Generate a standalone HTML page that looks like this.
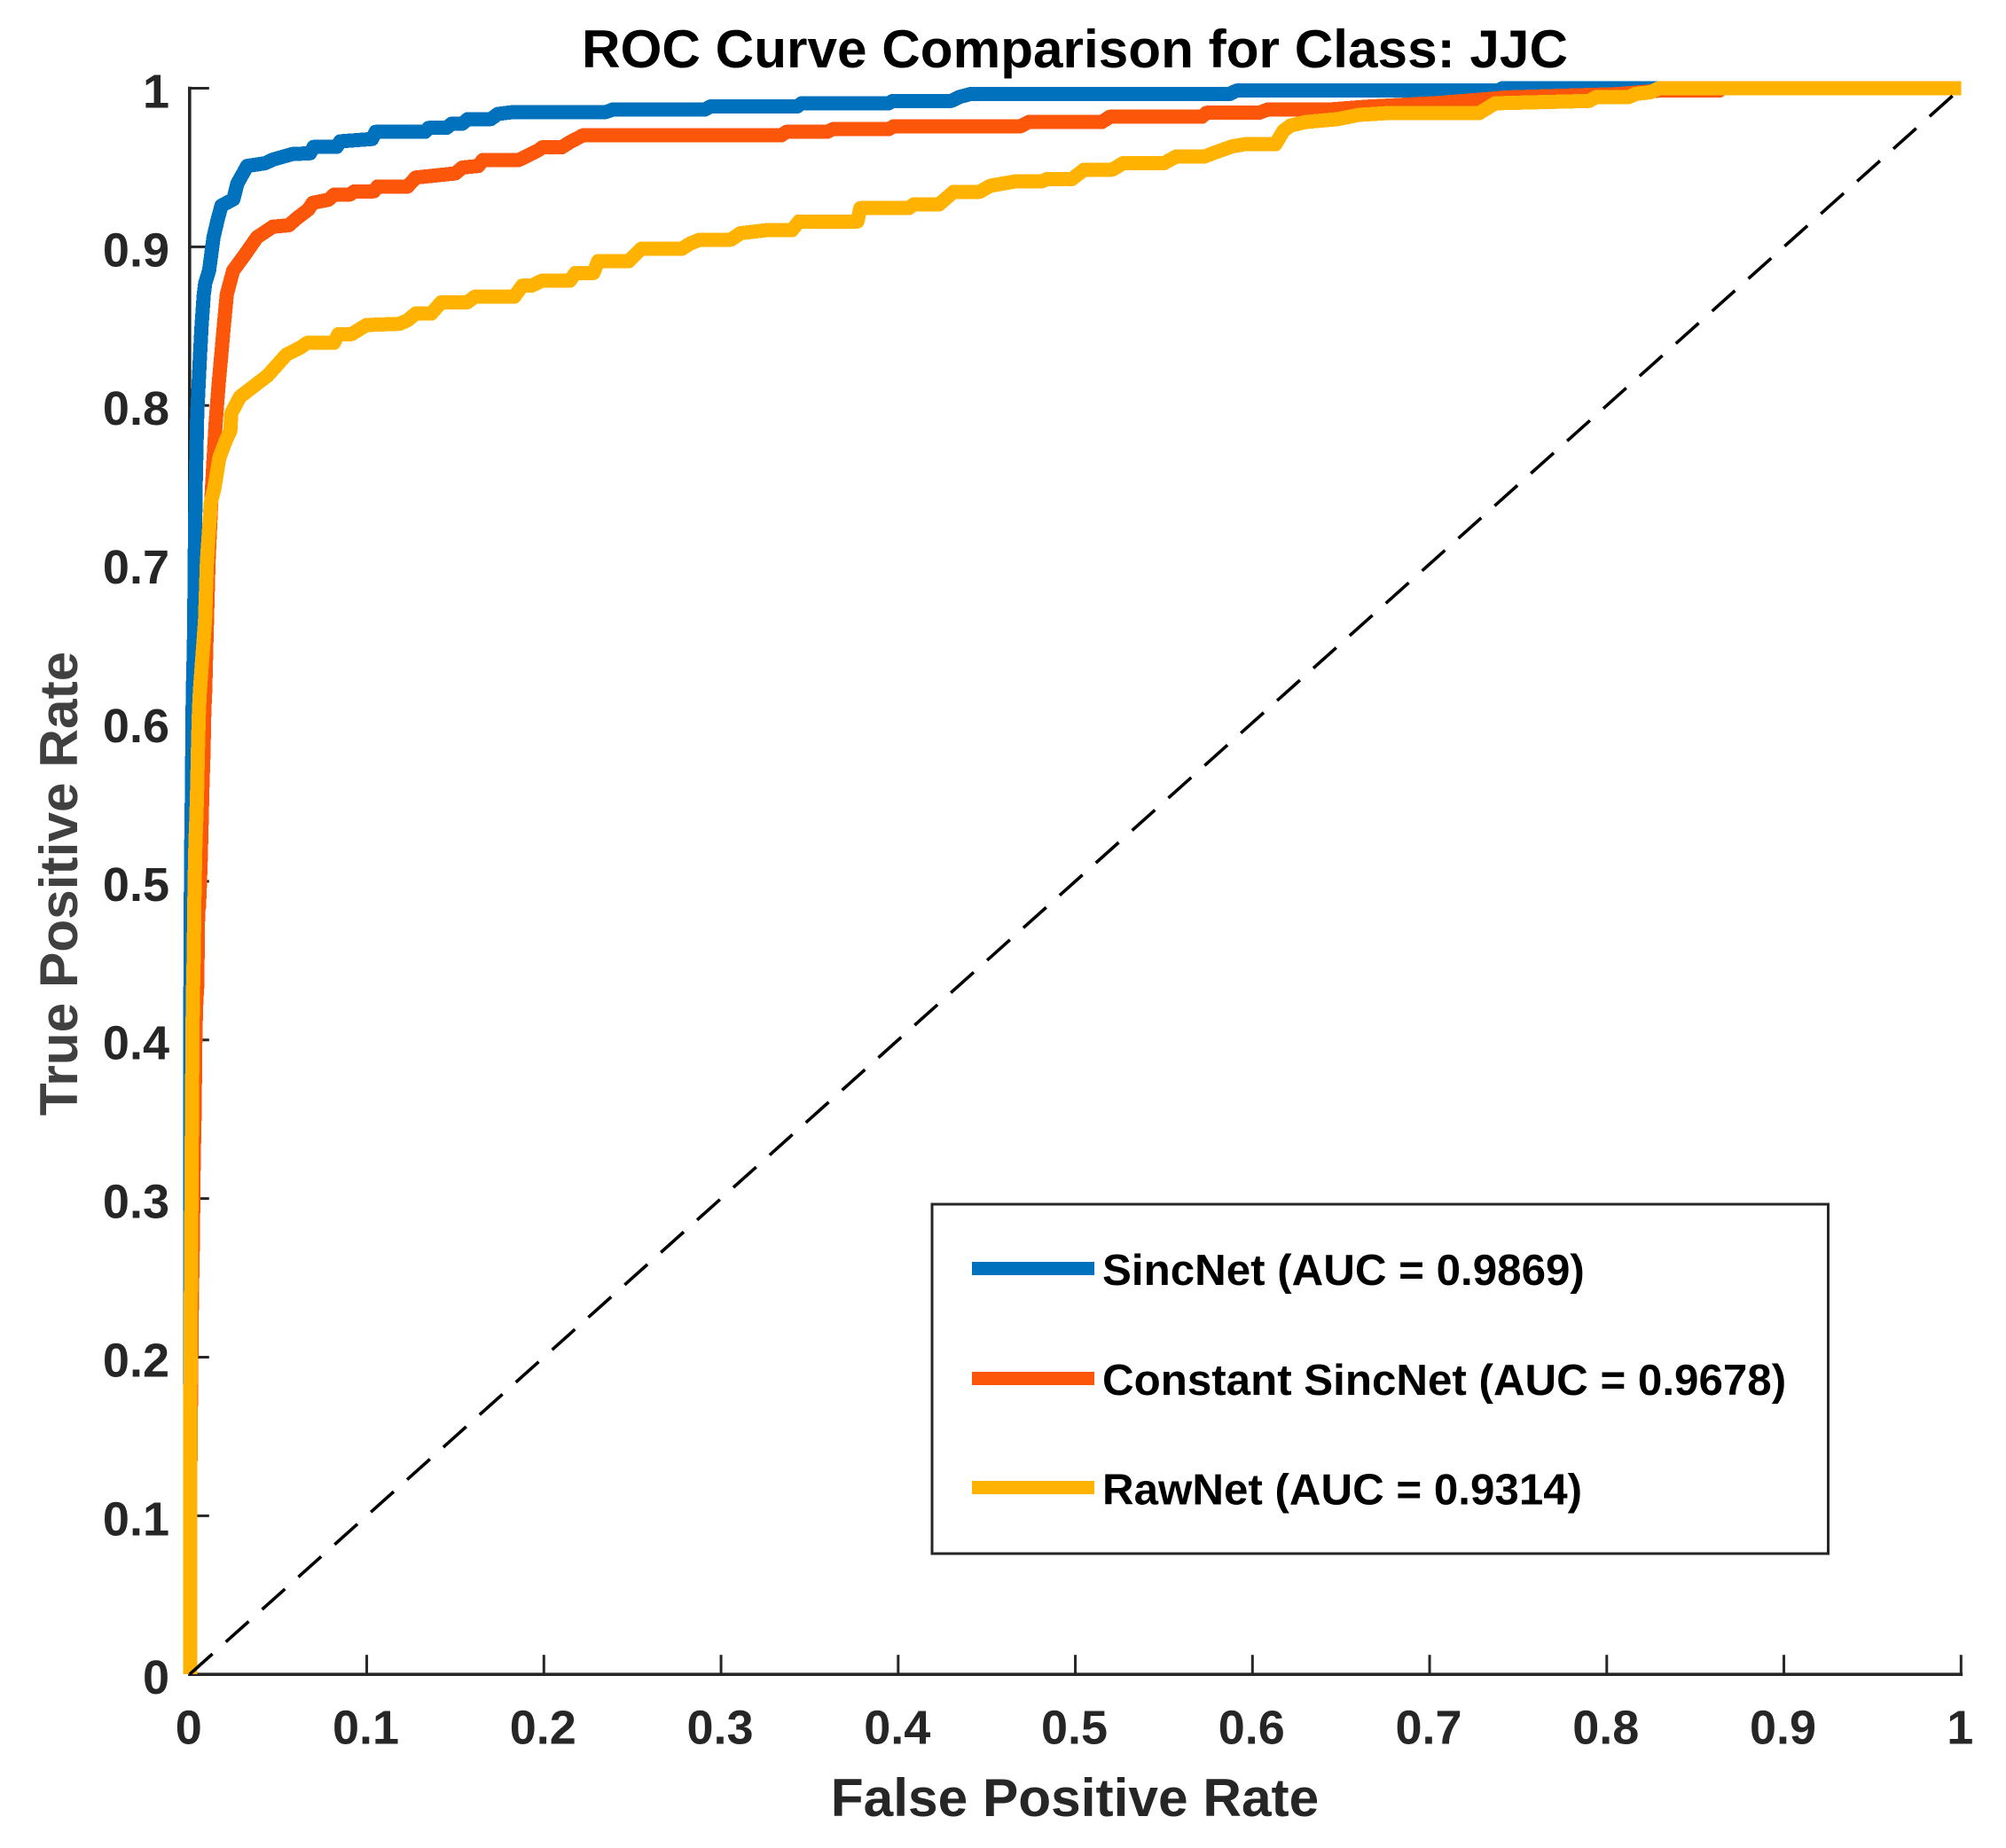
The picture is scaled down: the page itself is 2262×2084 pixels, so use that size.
<!DOCTYPE html>
<html>
<head>
<meta charset="utf-8">
<title>ROC Curve Comparison for Class: JJC</title>
<style>
html,body{margin:0;padding:0;background:#fff;}
svg{display:block;}
text{font-family:"Liberation Sans",Arial,sans-serif;font-weight:bold;}
</style>
</head>
<body>
<svg id="chart" xmlns="http://www.w3.org/2000/svg" width="2262" height="2084" viewBox="0 0 2262 2084">
<rect x="0" y="0" width="2262" height="2084" fill="#ffffff"/>
<g id="axes"></g>
<g id="series"></g>
<text x="656" y="76" font-size="60" fill="#000000" textLength="1112" lengthAdjust="spacingAndGlyphs">ROC Curve Comparison for Class: JJC</text>
<text x="1212" y="2048" font-size="60.4" fill="#262626" text-anchor="middle">False Positive Rate</text>
<text transform="translate(87 996.5) rotate(-90)" x="0" y="0" font-size="60.4" fill="#404040" text-anchor="middle">True Positive Rate</text>
<g>
<rect x="1051" y="1358" width="1010.5" height="394" fill="#ffffff" stroke="#262626" stroke-width="3"/>
<line x1="1096" y1="1430.5" x2="1234" y2="1430.5" stroke="#0072BD" stroke-width="15"/>
<text x="1243" y="1449" font-size="49.3" fill="#000000">SincNet (AUC = 0.9869)</text>
<line x1="1096" y1="1554.5" x2="1234" y2="1554.5" stroke="#FB560A" stroke-width="15"/>
<text x="1243" y="1573" font-size="49.3" fill="#000000">Constant SincNet (AUC = 0.9678)</text>
<line x1="1096" y1="1677.5" x2="1234" y2="1677.5" stroke="#FFB300" stroke-width="15"/>
<text x="1243" y="1696.5" font-size="49.3" fill="#000000">RawNet (AUC = 0.9314)</text>
</g>
</svg>
<script>
const xTicks = [0, 0.1, 0.2, 0.3, 0.4, 0.5, 0.6, 0.7, 0.8, 0.9, 1];
const yTicks = [0, 0.1, 0.2, 0.3, 0.4, 0.5, 0.6, 0.7, 0.8, 0.9, 1];
const xTickLabels = ["0", "0.1", "0.2", "0.3", "0.4", "0.5", "0.6", "0.7", "0.8", "0.9", "1"];
const yTickLabels = ["0", "0.1", "0.2", "0.3", "0.4", "0.5", "0.6", "0.7", "0.8", "0.9", "1"];

const sincnetFpr = [0.0003,0.0003,0.0008,0.0013,0.0018,0.0021,0.0026,0.0029,0.0034,0.0043,0.0059,0.0068,0.008,0.0088,0.011,0.0135,0.0158,0.018,0.0247,0.027,0.0325,0.0426,0.047,0.058,0.068,0.07,0.083,0.085,0.103,0.105,0.133,0.135,0.145,0.148,0.154,0.157,0.17,0.174,0.183,0.235,0.239,0.291,0.294,0.343,0.3455,0.3946,0.397,0.43,0.4346,0.4407,0.587,0.591,0.739,0.741,1];
const sincnetTpr = [0,0.39,0.51,0.556,0.62,0.631,0.659,0.702,0.748,0.795,0.832,0.851,0.87,0.877,0.885,0.906,0.917,0.926,0.93,0.94,0.951,0.9527,0.955,0.9585,0.959,0.963,0.963,0.9665,0.968,0.9725,0.9725,0.975,0.975,0.9777,0.9777,0.9805,0.9805,0.9838,0.985,0.985,0.9866,0.9866,0.9885,0.9885,0.9905,0.9905,0.992,0.992,0.9945,0.9963,0.9963,0.9985,0.9985,1,1];

const constantFpr = [0.0003,0.0003,0.0008,0.0013,0.0018,0.0023,0.0028,0.0033,0.0038,0.0043,0.0048,0.0053,0.0058,0.0063,0.0068,0.0073,0.0078,0.0083,0.0088,0.0097,0.0107,0.0122,0.0147,0.0164,0.0194,0.021,0.024,0.0246,0.0315,0.038,0.047,0.056,0.0605,0.067,0.0695,0.0784,0.0817,0.0906,0.093,0.104,0.106,0.123,0.1277,0.15,0.154,0.163,0.1655,0.1857,0.19,0.197,0.199,0.21,0.2147,0.222,0.334,0.337,0.36,0.363,0.3946,0.3974,0.469,0.4737,0.515,0.5195,0.5715,0.574,0.6037,0.6087,0.644,0.6637,0.705,0.731,0.7437,0.8065,0.8295,0.8635,0.865,1];
const constantTpr = [0,0.11,0.179,0.238,0.272,0.324,0.353,0.405,0.425,0.4334,0.481,0.484,0.498,0.5145,0.5386,0.562,0.579,0.607,0.62,0.66,0.702,0.739,0.789,0.8135,0.851,0.87,0.8826,0.885,0.8955,0.906,0.9127,0.9136,0.918,0.9235,0.9277,0.9297,0.933,0.933,0.935,0.935,0.938,0.938,0.9437,0.9463,0.95,0.951,0.9547,0.9547,0.957,0.961,0.9627,0.9627,0.966,0.9703,0.9703,0.9725,0.9725,0.9742,0.9742,0.976,0.976,0.9787,0.9787,0.982,0.982,0.9845,0.9845,0.9866,0.9866,0.9883,0.9907,0.993,0.9942,0.9963,0.9985,0.9985,1,1];

const rawnetFpr = [0.0003,0.0003,0.0008,0.0013,0.0018,0.0023,0.0028,0.0033,0.0038,0.0043,0.0048,0.0053,0.0058,0.0087,0.0098,0.012,0.014,0.0168,0.0205,0.023,0.0235,0.0284,0.0384,0.0439,0.049,0.0546,0.063,0.0664,0.0815,0.084,0.0915,0.0998,0.1187,0.123,0.1277,0.1365,0.142,0.1567,0.161,0.1833,0.1878,0.193,0.199,0.2147,0.2178,0.228,0.2306,0.248,0.255,0.278,0.2824,0.288,0.3055,0.311,0.3255,0.34,0.344,0.377,0.3786,0.406,0.4087,0.423,0.4313,0.446,0.452,0.4662,0.481,0.484,0.498,0.505,0.521,0.5268,0.55,0.557,0.573,0.5777,0.5884,0.5957,0.613,0.6174,0.6215,0.63,0.648,0.66,0.676,0.728,0.737,0.79,0.7943,0.8127,0.816,0.8247,0.8295,1];
const rawnetTpr = [0,0.1405,0.258,0.353,0.4249,0.451,0.4966,0.5246,0.5396,0.56,0.588,0.608,0.62,0.664,0.702,0.739,0.748,0.767,0.778,0.784,0.795,0.8054,0.814,0.8187,0.825,0.832,0.8368,0.8395,0.8395,0.845,0.845,0.8507,0.8515,0.8537,0.858,0.858,0.865,0.865,0.8686,0.8686,0.8755,0.8755,0.8787,0.8787,0.8835,0.8835,0.891,0.891,0.8988,0.8988,0.902,0.9045,0.9045,0.9086,0.9105,0.9105,0.916,0.916,0.9244,0.9244,0.9267,0.9267,0.9347,0.9347,0.9385,0.9413,0.9413,0.9427,0.9427,0.9487,0.9487,0.9527,0.9527,0.957,0.957,0.959,0.9633,0.9647,0.9647,0.973,0.9765,0.9787,0.9805,0.9832,0.9843,0.9843,0.9905,0.992,0.9945,0.9945,0.9963,0.9975,1,1];

const diagonalFpr = [0, 1];
const diagonalTpr = [0, 1];

const SVG_NS = "http://www.w3.org/2000/svg";
const INK = "#262626";
const xScale = function (v) { return 213.8 + 1997.5 * v; };
const yScale = function (v) { return 1888.2 - 1788.7 * v; };

function make(tag, parent, attrs, text) {
  const el = document.createElementNS(SVG_NS, tag);
  Object.keys(attrs).forEach(function (k) { el.setAttribute(k, attrs[k]); });
  if (text !== undefined) el.textContent = text;
  parent.appendChild(el);
  return el;
}

function pointsOf(xs, ys) {
  return xs.map(function (x, i) {
    return xScale(x).toFixed(2) + "," + yScale(ys[i]).toFixed(2);
  }).join(" ");
}

const axes = document.getElementById("axes");
const series = document.getElementById("series");

const xAxisLine = make("line", axes, { x1: xScale(0), y1: yScale(0), x2: xScale(1), y2: yScale(0), stroke: INK, "stroke-width": 3.6, "stroke-linecap": "square" });



const yAxisLine = make("line", axes, { x1: xScale(0), y1: yScale(0), x2: xScale(0), y2: yScale(1), stroke: INK, "stroke-width": 3.6, "stroke-linecap": "square" });



xTicks.forEach(function (t, i) {
  const mark = make("line", axes, { x1: xScale(t), y1: yScale(0), x2: xScale(t), y2: yScale(0) - 22, stroke: INK, "stroke-width": 3 });
  
  
  const label = make("text", axes, { x: xScale(t) - 1, y: 1966.5, "font-size": 54, fill: INK, "text-anchor": "middle" }, xTickLabels[i]);
  
  
});

yTicks.forEach(function (t, i) {
  const mark = make("line", axes, { x1: xScale(0), y1: yScale(t), x2: xScale(0) + 22, y2: yScale(t), stroke: INK, "stroke-width": 3 });
  
  
  const label = make("text", axes, { x: 191, y: yScale(t) + 22, "font-size": 54, fill: INK, "text-anchor": "end" }, yTickLabels[i]);
  
  
});

const curveStyle = { fill: "none", "stroke-width": 16, "stroke-linejoin": "round", "stroke-linecap": "butt", "shape-rendering": "crispEdges" };

const sincnetCurve = make("polyline", series, Object.assign({ points: pointsOf(sincnetFpr, sincnetTpr), stroke: "#0072BD" }, curveStyle));



const constantCurve = make("polyline", series, Object.assign({ points: pointsOf(constantFpr, constantTpr), stroke: "#FB560A" }, curveStyle));



const rawnetCurve = make("polyline", series, Object.assign({ points: pointsOf(rawnetFpr, rawnetTpr), stroke: "#FFB300" }, curveStyle));



const diagonal = make("polyline", series, { points: pointsOf(diagonalFpr, diagonalTpr), fill: "none", stroke: "#000000", "stroke-width": 3.6, "stroke-dasharray": "34.6 20.27" });


</script>
</body>
</html>
